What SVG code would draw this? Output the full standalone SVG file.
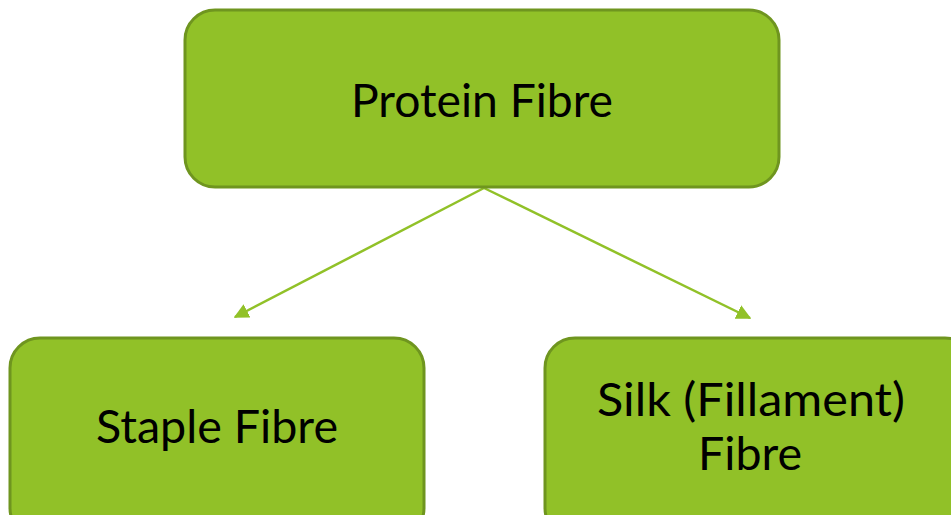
<svg xmlns="http://www.w3.org/2000/svg" width="951" height="515" viewBox="0 0 951 515">
  <style>
    .box { fill: #91c128; stroke: #6f951f; stroke-width: 3; }
    .label { font-family: "Lato", "Liberation Sans", sans-serif; font-size: 47px; fill: #000; text-anchor: middle; }
    .link { stroke: #91c128; stroke-width: 2.5; fill: none; }
  </style>
  <defs>
    <marker id="arrow" viewBox="0 0 10 10" refX="9" refY="5" markerWidth="6" markerHeight="6" orient="auto" markerUnits="strokeWidth">
      <path d="M0,0 L10,5 L0,10 z" fill="#91c128"/>
    </marker>
  </defs>

  <g id="connectors">
    <line class="link" x1="484" y1="188" x2="235" y2="317" marker-end="url(#arrow)"/>
    <line class="link" x1="484" y1="188" x2="750" y2="318" marker-end="url(#arrow)"/>
  </g>

  <g id="protein-fibre">
    <rect class="box" x="185" y="10" width="594" height="177" rx="30" ry="30"/>
    <text class="label" x="482" y="117" textLength="262" lengthAdjust="spacingAndGlyphs">Protein Fibre</text>
  </g>

  <g id="staple-fibre">
    <rect class="box" x="10" y="338" width="414" height="200" rx="30" ry="30"/>
    <text class="label" x="217" y="443" textLength="242" lengthAdjust="spacingAndGlyphs">Staple Fibre</text>
  </g>

  <g id="silk-fibre">
    <rect class="box" x="545" y="338" width="430" height="200" rx="30" ry="30"/>
    <text class="label" x="751" y="416" textLength="308" lengthAdjust="spacingAndGlyphs">Silk (Fillament)</text>
    <text class="label" x="750" y="470" textLength="104" lengthAdjust="spacingAndGlyphs">Fibre</text>
  </g>
</svg>
